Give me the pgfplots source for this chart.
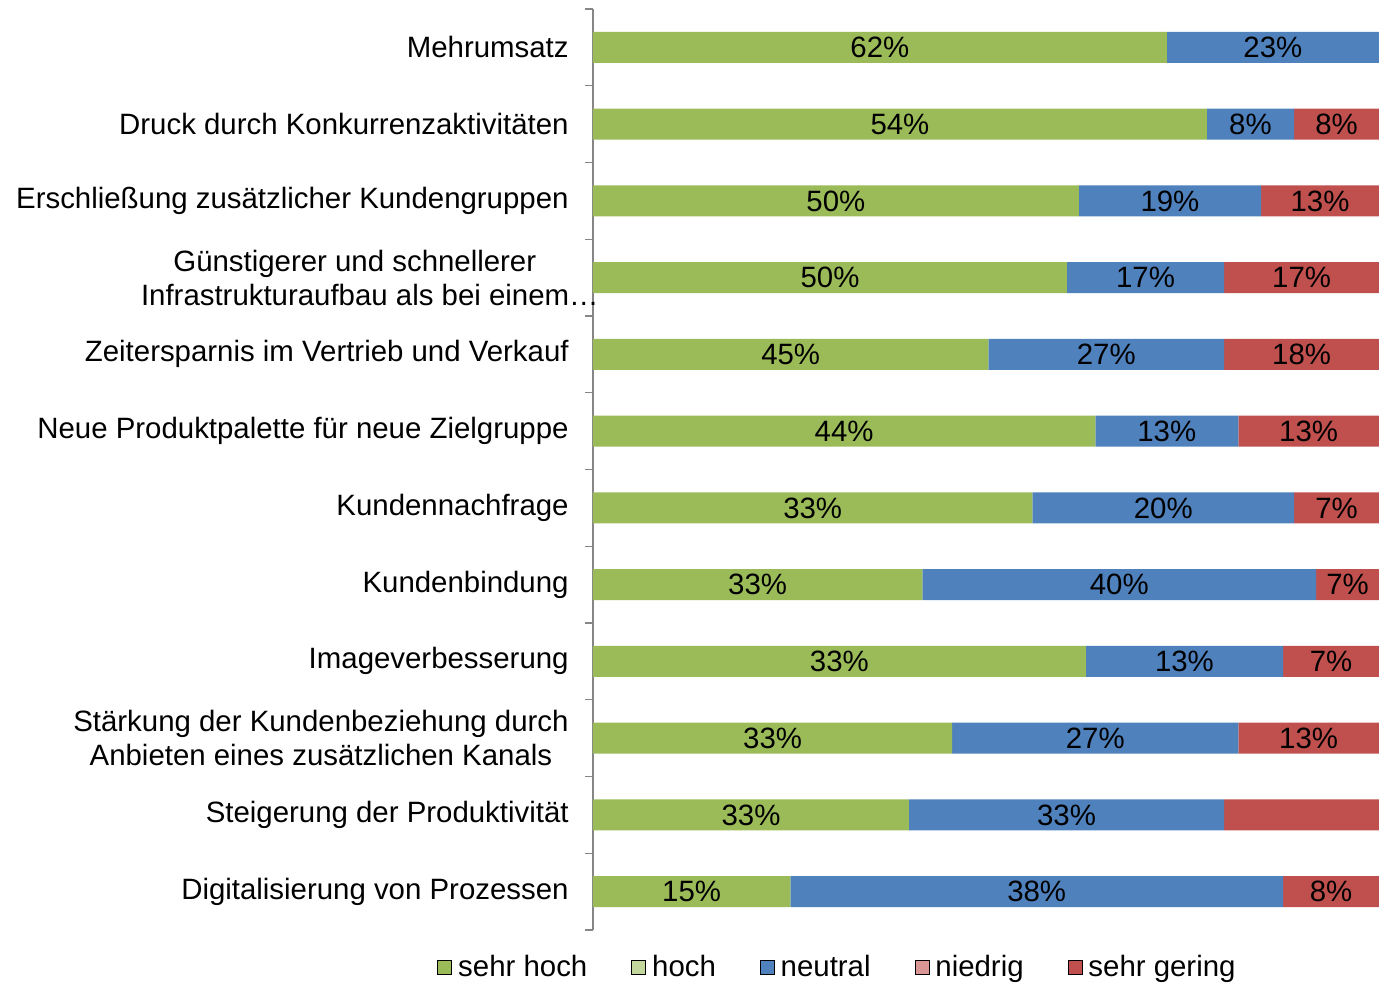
\documentclass[border=0pt]{standalone}
\usepackage{fontspec}
\setmainfont{Liberation Sans}
\usepackage{pgfplots}
\pgfplotsset{compat=1.18}

\definecolor{sehrhoch}{HTML}{9BBB59}
\definecolor{hoch}{HTML}{C3D69B}
\definecolor{neutral}{HTML}{4F81BD}
\definecolor{niedrig}{HTML}{D99694}
\definecolor{sehrgering}{HTML}{C0504D}
\definecolor{axgray}{HTML}{868686}

\newcommand{\lblfont}{\fontsize{14.7}{17}\selectfont}

\begin{document}
\begin{tikzpicture}
\useasboundingbox (-296.5pt,-26pt) rectangle (393pt,465pt);
\begin{axis}[
    at={(0,0)}, anchor=south west,
    scale only axis,
    width=393pt, height=460.5pt,
    xbar stacked,
    bar width=15.5pt,
    xmin=0, xmax=100,
    ymin=-0.5, ymax=11.5,
    y dir=reverse,
    axis x line=none,
    axis y line*=left,
    y axis line style={draw=axgray, line width=0.6pt},
    ytick={0,...,11},
    yticklabels={
        Mehrumsatz,
        Druck durch Konkurrenzaktivitäten,
        Erschließung zusätzlicher Kundengruppen,
        Günstigerer und schnellerer\\Infrastrukturaufbau als bei einem…\kern-15pt,
        Zeitersparnis im Vertrieb und Verkauf,
        Neue Produktpalette für neue Zielgruppe,
        Kundennachfrage,
        Kundenbindung,
        Imageverbesserung,
        Stärkung der Kundenbeziehung durch\\Anbieten eines zusätzlichen Kanals,
        Steigerung der Produktivität,
        Digitalisierung von Prozessen},
    minor ytick={-0.5,0.5,...,11.5},
    major tick length=0pt,
    minor tick length=4pt,
    tick align=outside,
    minor tick style={draw=axgray, line width=0.6pt},
    yticklabel style={align=center, anchor=east, inner sep=0pt, xshift=-12pt, font=\lblfont},
    point meta=explicit symbolic,
    nodes near coords,
    every node near coord/.append style={anchor=center, inner sep=0pt, font=\lblfont, text=black},
    legend image code/.code={\fill[#1] (0pt,-3.5pt) rectangle (7pt,3.5pt);},
    legend columns=5,
    legend style={at={(0.3098,-0.0402)}, anchor=center, draw=none, fill=none,
        font=\lblfont, inner sep=0pt,
        nodes={inner sep=0pt},
        /tikz/every odd column/.append style={column sep=3pt},
        /tikz/every even column/.append style={column sep=22pt}},
]
% sehr hoch
\addplot[fill=sehrhoch, draw=none, forget plot] coordinates {
    (73.0,0) [62\%] (78.1,1) [54\%] (61.8,2) [50\%] (60.3,3) [50\%]
    (50.3,4) [45\%] (63.9,5) [44\%] (55.9,6) [33\%] (41.9,7) [33\%]
    (62.7,8) [33\%] (45.7,9) [33\%] (40.2,10) [33\%] (25.1,11) [15\%]};
% neutral
\addplot[fill=neutral, draw=none, forget plot] coordinates {
    (27.0,0) [23\%] (11.1,1) [8\%] (23.2,2) [19\%] (20.0,3) [17\%]
    (30.0,4) [27\%] (18.2,5) [13\%] (33.3,6) [20\%] (50.1,7) [40\%]
    (25.1,8) [13\%] (36.4,9) [27\%] (40.1,10) [33\%] (62.7,11) [38\%]};
% sehr gering
\addplot[fill=sehrgering, draw=none, forget plot] coordinates {
    (0,0) [] (10.8,1) [8\%] (15.0,2) [13\%] (19.7,3) [17\%]
    (19.7,4) [18\%] (17.9,5) [13\%] (10.8,6) [7\%] (8.0,7) [7\%]
    (12.2,8) [7\%] (17.9,9) [13\%] (19.7,10) [] (12.2,11) [8\%]};
\addlegendimage{fill=sehrhoch}
\addlegendentry{sehr hoch}
\addlegendimage{fill=hoch}
\addlegendentry{hoch}
\addlegendimage{fill=neutral}
\addlegendentry{neutral}
\addlegendimage{fill=niedrig}
\addlegendentry{niedrig}
\addlegendimage{fill=sehrgering}
\addlegendentry{sehr gering}
\end{axis}
\end{tikzpicture}
\end{document}
